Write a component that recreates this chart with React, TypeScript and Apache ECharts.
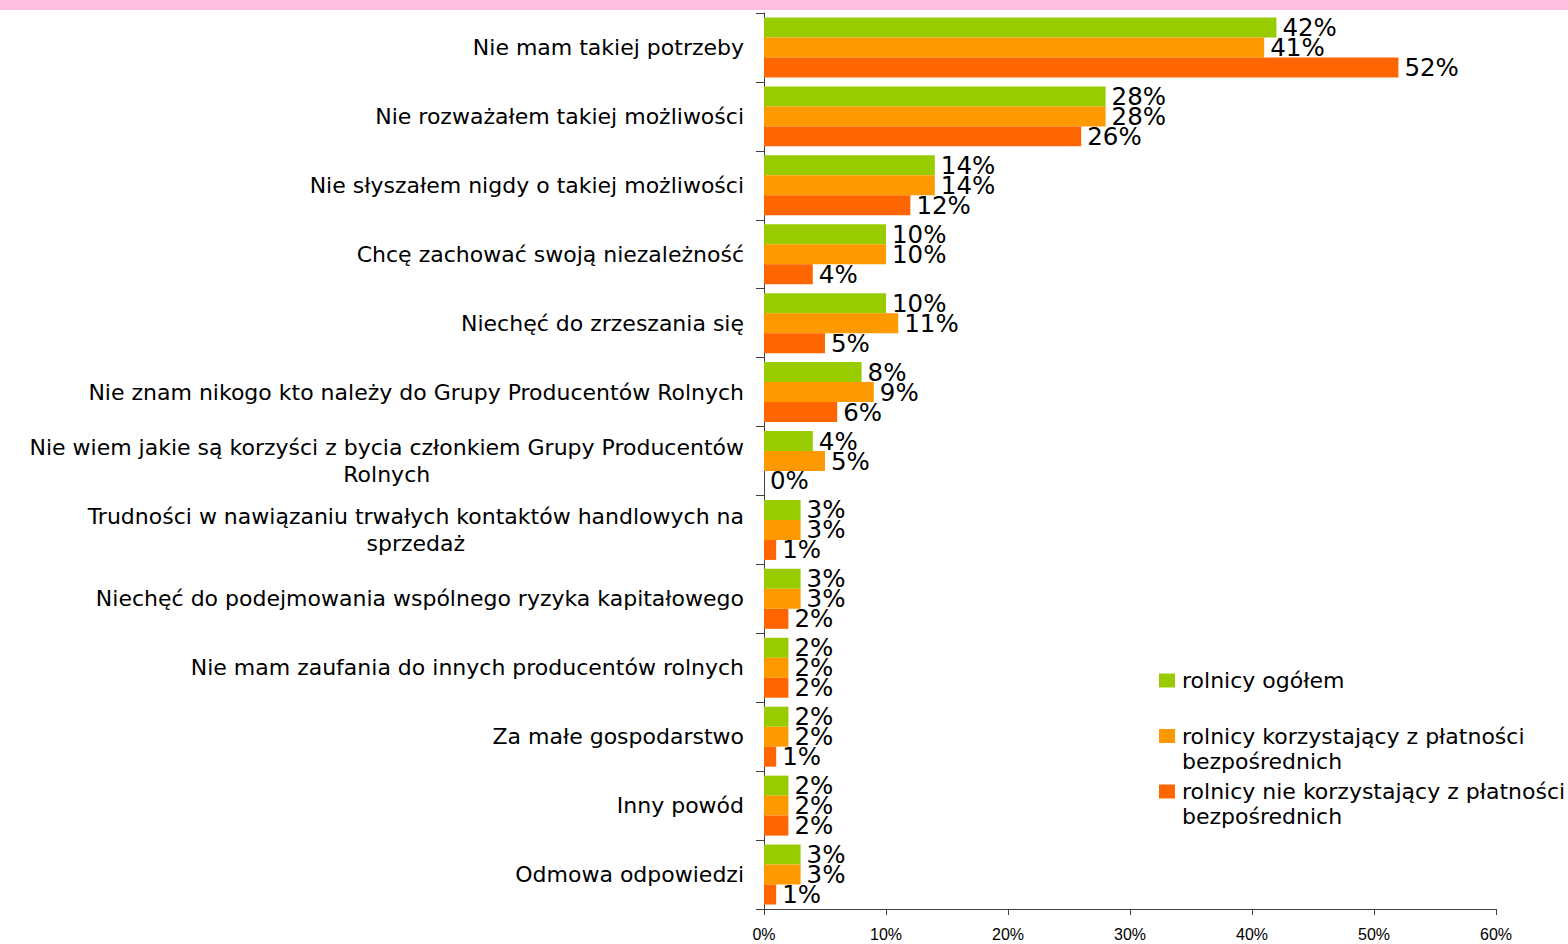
import React, { useEffect, useRef } from "react";
import * as echarts from "echarts";

const categories: string[] = [
  "Nie mam takiej potrzeby",
  "Nie rozważałem takiej możliwości",
  "Nie słyszałem nigdy o takiej możliwości",
  "Chcę zachować swoją niezależność",
  "Niechęć do zrzeszania się",
  "Nie znam nikogo kto należy do Grupy Producentów Rolnych",
  "Nie wiem jakie są korzyści z bycia członkiem Grupy Producentów\nRolnych",
  "Trudności w nawiązaniu trwałych kontaktów handlowych na\nsprzedaż",
  "Niechęć do podejmowania wspólnego ryzyka kapitałowego",
  "Nie mam zaufania do innych producentów rolnych",
  "Za małe gospodarstwo",
  "Inny powód",
  "Odmowa odpowiedzi",
];

const seriesNames: string[] = [
  "rolnicy ogółem",
  "rolnicy korzystający z płatności bezpośrednich",
  "rolnicy nie korzystający z płatności bezpośrednich",
];

const ogolem: number[] = [42, 28, 14, 10, 10, 8, 4, 3, 3, 2, 2, 2, 3];
const korzystajacy: number[] = [41, 28, 14, 10, 11, 9, 5, 3, 3, 2, 2, 2, 3];
const niekorzystajacy: number[] = [52, 26, 12, 4, 5, 6, 0, 1, 2, 2, 1, 2, 1];

const xTicks: number[] = [0, 10, 20, 30, 40, 50, 60];

const colors: string[] = ["#99CC00", "#FF9900", "#FF6600"];

export default function App() {
  const ref = useRef<HTMLDivElement>(null);

  useEffect(() => {
    if (!ref.current) return;
    const chart = echarts.init(ref.current, null, { renderer: "svg" });
    const values = [ogolem, korzystajacy, niekorzystajacy];

    const legendFormatter = (name: string) => {
      const idx = name.indexOf(" bezpośrednich");
      if (idx >= 0) {
        return "\n" + name.slice(0, idx) + "\nbezpośrednich";
      }
      return "\n" + name + "\n";
    };

    chart.setOption({
      animation: false,
      color: colors,
      graphic: [
        {
          type: "rect",
          left: 0,
          top: 0,
          shape: { width: 1568, height: 10 },
          style: { fill: "#FFBFDF" },
          silent: true,
        },
      ],
      grid: { left: 764, top: 13, width: 732, height: 896, containLabel: false },
      legend: {
        orient: "vertical",
        left: 1159,
        top: 643,
        padding: 0,
        itemGap: -19.5,
        itemWidth: 16,
        itemHeight: 14,
        icon: "rect",
        selectedMode: false,
        data: seriesNames,
        formatter: legendFormatter,
        textStyle: {
          fontFamily: "DejaVu Sans",
          fontSize: 22,
          lineHeight: 25,
          color: "#000",
          padding: [0, 0, 0, 2],
        },
      },
      xAxis: {
        type: "value",
        min: 0,
        max: xTicks[xTicks.length - 1],
        interval: 10,
        splitLine: { show: false },
        axisLine: { show: true, lineStyle: { color: "#404040", width: 1 } },
        axisTick: { show: true, length: 6, lineStyle: { color: "#404040" } },
        axisLabel: {
          formatter: "{value}%",
          margin: 17,
          color: "#000",
          fontFamily: "'Liberation Sans', Arial",
          fontSize: 16,
        },
      },
      yAxis: {
        type: "category",
        inverse: true,
        data: categories,
        axisLine: { show: true, lineStyle: { color: "#404040", width: 1 } },
        axisTick: { show: true, length: 8, lineStyle: { color: "#404040" } },
        axisLabel: {
          margin: 20,
          interval: 0,
          formatter: (v: string) =>
            v
              .split("\n")
              .map((s) => "{c|" + s + "}")
              .join("\n"),
          rich: {
            c: {
              fontFamily: "DejaVu Sans",
              fontSize: 22,
              lineHeight: 27,
              color: "#000",
              align: "center",
            },
          },
        },
      },
      series: seriesNames.map((name, i) => ({
        name,
        type: "bar",
        data: values[i],
        barGap: "0%",
        barCategoryGap: "13%",
        itemStyle: { color: colors[i] },
        label: {
          show: true,
          position: "right",
          distance: 6,
          formatter: "{c}%",
          color: "#000",
          fontFamily: "DejaVu Sans",
          fontSize: 24.5,
        },
      })),
    });

    return () => {
      chart.dispose();
    };
  }, []);

  return (
    <div
      ref={ref}
      style={{ position: "absolute", left: 0, top: 0, width: 1568, height: 944 }}
    />
  );
}
